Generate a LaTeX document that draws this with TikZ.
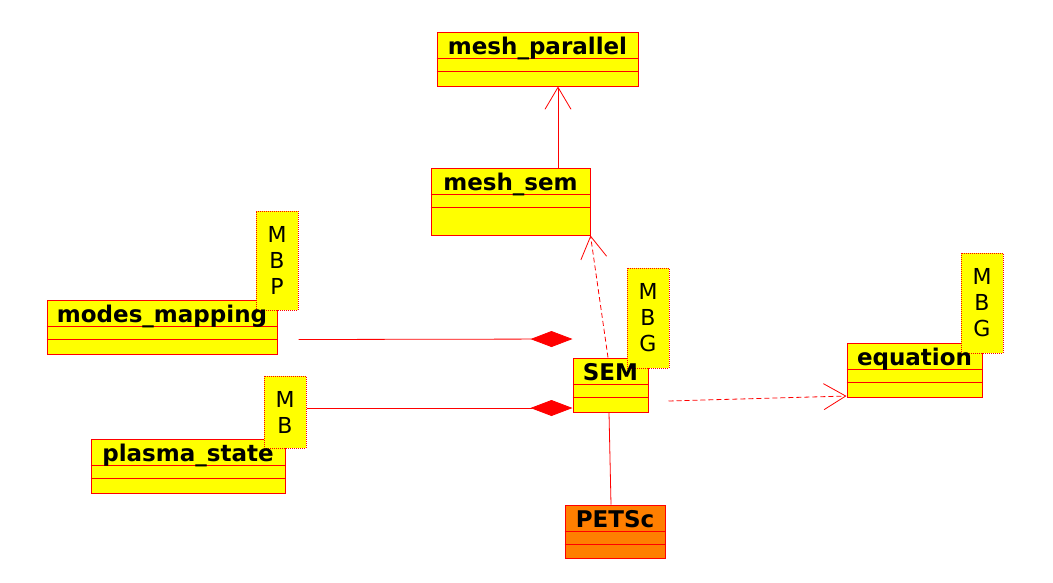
\documentclass[tikz,border=0pt]{standalone}
\usepackage{fontspec}
\setmainfont{DejaVu Sans}
\usetikzlibrary{arrows.meta}
\definecolor{umlred}{RGB}{255,0,0}
\definecolor{umlyellow}{RGB}{255,255,0}
\definecolor{umlorange}{RGB}{255,127,0}
\begin{document}
\begin{tikzpicture}[x=1pt, y=-1pt]
    \useasboundingbox (0,0) rectangle (1053,582);
    \begin{scope}
        \tikzset{uml class/.style={draw=umlred, line width=1pt, fill=umlyellow, rectangle, inner sep=0pt},
                 uml title/.style={anchor=base, inner sep=0pt, font=\fontsize{23}{26}\selectfont\bfseries},
                 uml note/.style={draw=umlred, densely dotted, line width=1pt, fill=umlyellow, rectangle, inner sep=0pt,
                     minimum width=42pt, align=center, font=\fontsize{22}{26}\selectfont},
                 uml line/.style={draw=umlred, line width=0.8pt},
                 open tip/.style={-{Straight Barb[length=22pt, width=26pt, line width=0.8pt]}},
                 owner tip/.style={-{Diamond[length=42pt, width=16pt, fill=umlred]}}}
        % Draw the classes
        \node [uml class, minimum width=201pt, minimum height=54pt] (meshpar) at (537.5,59) {};
        \node [uml class, minimum width=159pt, minimum height=67pt] (meshsem) at (510.5,201.5) {};
        \node [uml class, minimum width=230pt, minimum height=54pt] (modes) at (162,327) {};
        \node [uml class, minimum width=194pt, minimum height=54pt] (plasma) at (188,466) {};
        \node [uml class, minimum width=75pt, minimum height=54pt] (sem) at (610.5,385) {};
        \node [uml class, minimum width=135pt, minimum height=54pt] (equation) at (914.5,370) {};
        \node [uml class, fill=umlorange, minimum width=100pt, minimum height=53pt] (petsc) at (615,531.5) {};

        % Compartment lines
        \foreach \c in {meshpar, meshsem, modes, plasma, sem, equation, petsc} {
            \draw [uml line] ([yshift=-27pt]\c.north west) -- ([yshift=-27pt]\c.north east);
            \draw [uml line] ([yshift=-40pt]\c.north west) -- ([yshift=-40pt]\c.north east);
        }

        % Draw the notes
        \node [uml note, minimum height=99pt] (modes note) at (277,260.5) {M\\B\\P};
        \node [uml note, minimum height=72pt] (plasma note) at (285,412) {M\\B};
        \node [uml note, minimum height=100pt] (sem note) at (648,318) {M\\B\\G};
        \node [uml note, minimum height=100pt] (equation note) at (982,303) {M\\B\\G};

        % Label the classes
        \node [uml title] (meshpar title) at ([yshift=-22.5pt]meshpar.north) {mesh\_parallel};
        \node [uml title] (meshsem title) at ([yshift=-22.5pt]meshsem.north) {mesh\_sem};
        \node [uml title] (modes title) at ([yshift=-22.5pt]modes.north) {modes\_mapping};
        \node [uml title] (plasma title) at ([yshift=-22.5pt]plasma.north) {plasma\_state};
        \node [uml title] (sem title) at ([yshift=-22.5pt]sem.north) {SEM};
        \node [uml title] (equation title) at ([yshift=-22.5pt]equation.north) {equation};
        \node [uml title] (petsc title) at ([yshift=-22.5pt]petsc.north) {PETSc};

        % Relations
        \draw [uml line, open tip] ([xshift=47.5pt]meshsem.north) -- ([xshift=20.5pt]meshpar.south);
        \draw [uml line, open tip, dash pattern=on 5pt off 3pt] ([xshift=-2.5pt]sem.north) -- (meshsem.south east);
        \draw [uml line, owner tip] ([yshift=-29pt]modes note.south east) -- ([yshift=46pt]sem.west);
        \draw [uml line, owner tip] ([yshift=4pt]plasma note.east) -- ([yshift=-23pt]sem.west);
        \draw [uml line, open tip, dash pattern=on 5pt off 3pt] ([xshift=20pt, yshift=-16pt]sem.east) -- ([yshift=-26pt]equation.west);
        \draw [uml line] ([xshift=-1.5pt]sem.south) -- ([xshift=-4pt]petsc.north);
    \end{scope}
\end{tikzpicture}
\end{document}
